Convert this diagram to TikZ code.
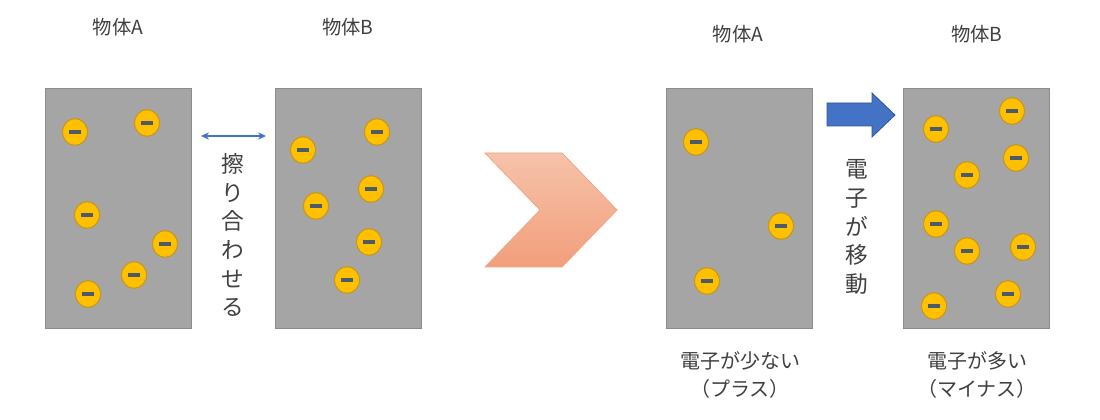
\documentclass[tikz,border=0pt]{standalone}
\usepackage{fontspec}
\setmainfont{Noto Sans CJK JP}
\usetikzlibrary{shapes.geometric,arrows.meta,calc}
\definecolor{boxgray}{HTML}{A5A5A5}
\definecolor{boxline}{HTML}{8C8C8C}
\definecolor{eyellow}{HTML}{FFC000}
\definecolor{eline}{HTML}{C9971A}
\definecolor{minuscol}{HTML}{4D5B68}
\definecolor{txt}{HTML}{404040}
\definecolor{blue1}{HTML}{4472C4}
\definecolor{blue2}{HTML}{2F5597}
\definecolor{chevtop}{HTML}{F6C3AA}
\definecolor{chevbot}{HTML}{F29E7B}
\definecolor{chevline}{HTML}{EFA585}
\begin{document}
\begin{tikzpicture}[x=0.75pt,y=-0.75pt,
  body/.style={draw=boxline,fill=boxgray,line width=0.75pt,minimum width=109.5pt,minimum height=180pt,inner sep=0,anchor=north west},
  electron/.style={ellipse,fill=eyellow,draw=eline,line width=0.8pt,minimum width=18.75pt,minimum height=20pt,inner sep=0},
  lbl/.style={text=txt,font=\fontsize{14.5}{17}\selectfont,inner sep=0},
  vtxt/.style={text=txt,font=\fontsize{17}{21.5}\selectfont,align=center,inner sep=0},
  btxt/.style={text=txt,font=\fontsize{15}{21}\selectfont,align=center,inner sep=0},
  rubarrow/.style={blue1,line width=0.9pt,>={Stealth[length=6pt,width=5.5pt]},<->}
]
\useasboundingbox (0,0) rectangle (1100,420);
\newcommand{\minusmark}{{\color{minuscol}\rule[-1.6pt]{9pt}{3.2pt}}}

% ---- left pair ----
\node[body] (A1) at (45,88) {};
\node[body] (B1) at (275,88) {};
\node[lbl] (tA1) at (118,27) {物体A};
\node[lbl] (tB1) at (348,27) {物体B};

\foreach \n/\x/\y in {a1/75/132, a2/147/123, a3/87/215, a4/165/244, a5/134/275, a6/88/294}
  \node[electron] (\n) at (\x,\y) {\minusmark};
\foreach \n/\x/\y in {b1/303/150, b2/377/132, b3/316/206, b4/371/189, b5/369/242, b6/347/280}
  \node[electron] (\n) at (\x,\y) {\minusmark};

\coordinate (rl) at (201,136);
\coordinate (rr) at (266,136);
\draw[rubarrow] (rl) -- (rr);
\node[vtxt] (rub) at (233,235) {擦\\り\\合\\わ\\せ\\る};

% ---- chevron ----
\shade[top color=chevtop,bottom color=chevbot,draw=chevline,line width=0.6pt]
  (485,153) -- (562,153) -- (617,210) -- (562,267) -- (485,267) -- (540,210) -- cycle;

% ---- right pair ----
\node[body] (A2) at (666,88) {};
\node[body] (B2) at (903,88) {};
\node[lbl] (tA2) at (738,34) {物体A};
\node[lbl] (tB2) at (977,34) {物体B};

\foreach \n/\x/\y in {c1/696/142, c2/781/226, c3/707/281}
  \node[electron] (\n) at (\x,\y) {\minusmark};
\foreach \n/\x/\y in {d1/936/129, d2/1012/111, d3/1016/158, d4/967/175, d5/936/224, d6/967/251, d7/1023/247, d8/1008/294, d9/934/306}
  \node[electron] (\n) at (\x,\y) {\minusmark};

\draw[fill=blue1,draw=blue2,line width=0.6pt]
  (827,103) -- (872,103) -- (872,93) -- (895,115) -- (872,137) -- (872,126) -- (827,126) -- cycle;
\node[vtxt] (move) at (857,227) {電\\子\\が\\移\\動};

\node[btxt] (few) at (740,375) {電子が少ない\\（プラス）};
\node[btxt] (many) at (977,375) {電子が多い\\（マイナス）};
\end{tikzpicture}
\end{document}
